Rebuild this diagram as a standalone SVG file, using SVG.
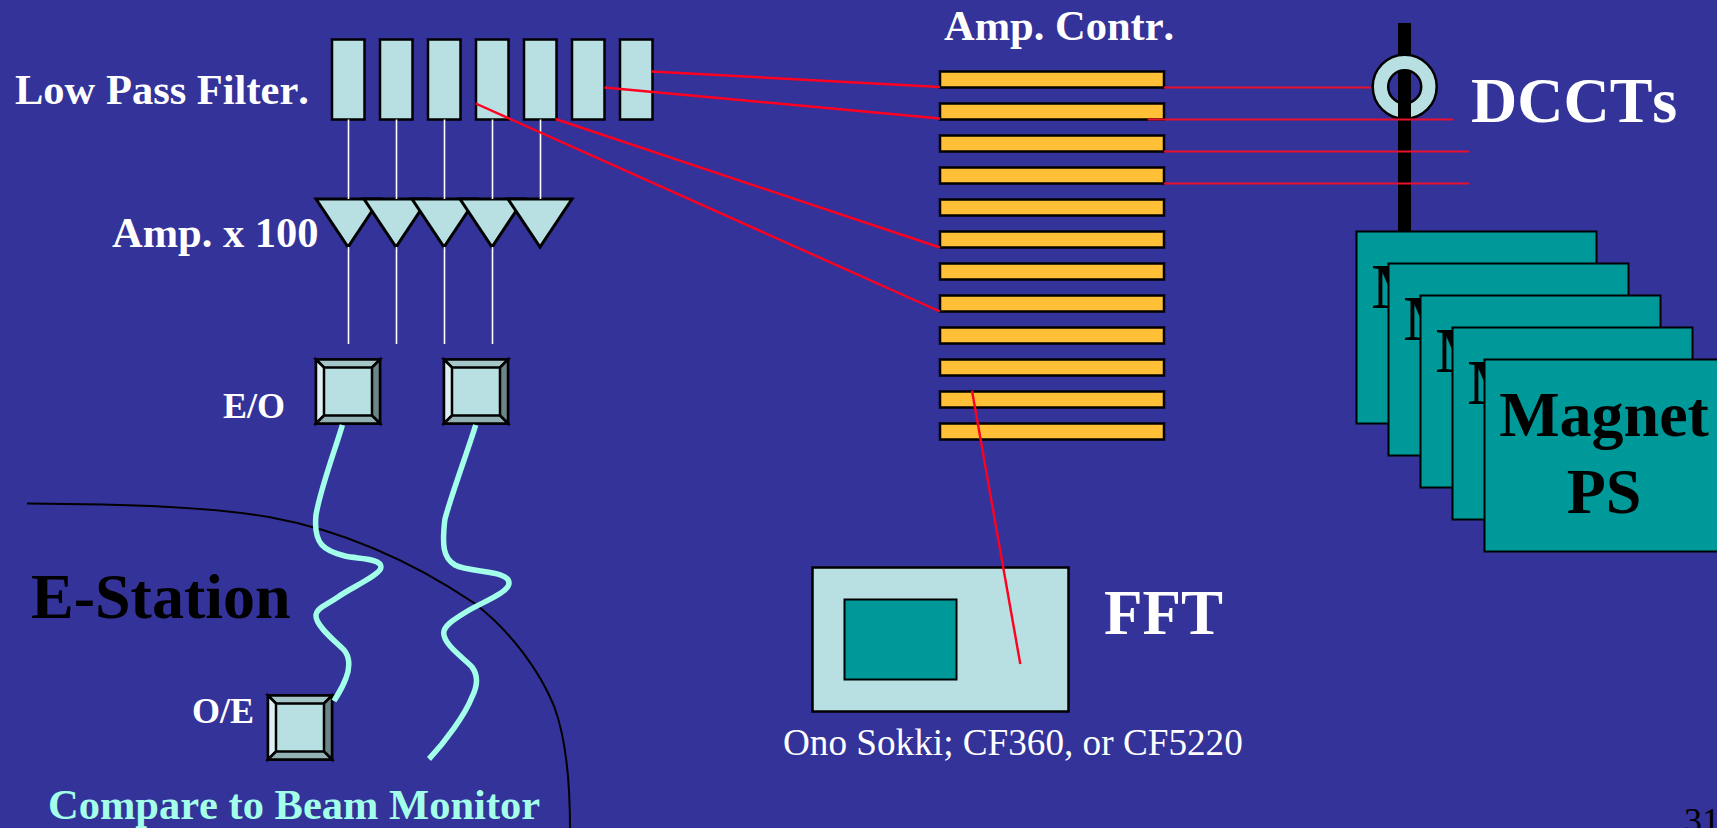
<svg xmlns="http://www.w3.org/2000/svg" width="1717" height="828" viewBox="0 0 1717 828">
<style>
text{font-family:"Liberation Serif","Times New Roman",serif;font-kerning:none}
.b{font-weight:bold}
.w{fill:#fff}
.k{fill:#000}
.s42{font-size:42.5px}
.s36{font-size:36px}
.s64{font-size:64px}
.lb{fill:#b8dfe2;stroke:#000;stroke-width:2.5}
.lb3{fill:#b8dfe2;stroke:#000;stroke-width:3;stroke-linejoin:miter}
.or{fill:#ffc038;stroke:#000;stroke-width:2.5}
.te{fill:#009999;stroke:#000;stroke-width:2}
.wl{stroke:#fff;stroke-width:1.6;fill:none}
.rd{stroke:#ff0021;stroke-width:2.4;fill:none}
.rh{stroke:#e8102f;stroke-width:2;fill:none}
.fb{stroke:#a3ffe9;stroke-width:5.5;fill:none}
.bv{stroke:#000;stroke-width:2.5;stroke-linejoin:miter}
</style>
<defs>
<g id="bevel">
<rect class="bv" fill="#b8dfe2" x="0" y="0" width="64" height="64"/>
<polygon class="bv" fill="#a5c6c9" points="0,0 64,0 56,8 8,8"/>
<polygon class="bv" fill="#dcf0f1" points="0,0 8,8 8,56 0,64"/>
<polygon class="bv" fill="#6e8587" points="64,0 56,8 56,56 64,64"/>
<polygon class="bv" fill="#93b2b5" points="0,64 8,56 56,56 64,64"/>
</g>
<rect id="flt" class="lb" width="32.5" height="80" y="39.5"/>
<polygon id="tri" class="lb3" points="0,199 64,199 32,247"/>
<rect id="bar" class="or" x="940" width="224" height="16"/>
</defs>
<rect width="1717" height="828" fill="#333399"/>

<g id="filters">
<use href="#flt" x="332"/><use href="#flt" x="380"/><use href="#flt" x="428"/><use href="#flt" x="476"/><use href="#flt" x="524"/><use href="#flt" x="572"/><use href="#flt" x="620"/>
</g>
<text id="label-lpf" class="b w s42" x="15" y="104">Low Pass Filter.</text>

<g id="amps">
<use href="#tri" x="316"/><use href="#tri" x="364"/><use href="#tri" x="412"/><use href="#tri" x="460"/><use href="#tri" x="508"/>
</g>
<text id="label-amp" class="b w s42" x="112" y="247">Amp. x 100</text>

<g id="eo1"><use href="#bevel" x="316" y="359.5"/></g>
<g id="eo2"><use href="#bevel" x="444" y="359.5"/></g>
<text id="label-eo" class="b w s36" x="223" y="418">E/O</text>

<g id="oe"><use href="#bevel" x="268" y="695.5"/></g>
<text id="label-oe" class="b w s36" x="192" y="723">O/E</text>

<g id="boundary">
<path d="M27 503.500C130 504 210 507 269 517C340 530 410 560 474 603C512 632 540 672 554 706C566 738 570 780 570 828" fill="none" stroke="#000" stroke-width="2"/>
</g>
<text id="label-estation" class="b k s64" x="31" y="618">E-Station</text>
<text id="label-compare" class="b s42" fill="#a3ffe9" x="48" y="819">Compare to Beam Monitor</text>

<g id="amp-contr">
<use href="#bar" y="71.5"/><use href="#bar" y="103.5"/><use href="#bar" y="135.5"/><use href="#bar" y="167.5"/><use href="#bar" y="199.5"/><use href="#bar" y="231.5"/><use href="#bar" y="263.5"/><use href="#bar" y="295.5"/><use href="#bar" y="327.5"/><use href="#bar" y="359.5"/><use href="#bar" y="391.5"/><use href="#bar" y="423.5"/>
</g>
<text id="label-contr" class="b w s42" x="944" y="40">Amp. Contr.</text>

<g id="fft">
<rect class="lb" x="812.5" y="567.5" width="256" height="144"/>
<rect class="te" x="844.5" y="599.5" width="112" height="80"/>
</g>
<text id="label-fft" class="b w" font-size="63" x="1104" y="634">FFT</text>
<text id="label-ono" class="w" font-size="37.2" x="783" y="755">Ono Sokki; CF360, or CF5220</text>

<g id="dcct">
<rect x="1398" y="23" width="13" height="70" fill="#000"/>
<path fill="#b8dfe2" stroke="#000" stroke-width="2.5" fill-rule="evenodd" d="M1372.700 86.700a32 32 0 1 0 64 0a32 32 0 1 0-64 0ZM1388.200 86.700a16.500 16.500 0 1 0 33 0a16.500 16.500 0 1 0-33 0Z"/>
<rect x="1398" y="86" width="13" height="146" fill="#000"/>
</g>
<text id="label-dccts" class="b w s64" x="1471" y="122">DCCTs</text>

<g id="magnet-ps-1"><rect class="te" x="1356.500" y="231.500" width="240" height="192"/><text class="b k s64" x="1372" y="308">M</text></g>
<g id="magnet-ps-2"><rect class="te" x="1388.500" y="263.500" width="240" height="192"/><text class="b k s64" x="1404" y="340">M</text></g>
<g id="magnet-ps-3"><rect class="te" x="1420.500" y="295.500" width="240" height="192"/><text class="b k s64" x="1436" y="372">M</text></g>
<g id="magnet-ps-4"><rect class="te" x="1452.500" y="327.500" width="240" height="192"/><text class="b k s64" x="1468" y="404">M</text></g>
<g id="magnet-ps-5"><rect class="te" x="1484.500" y="359.500" width="240" height="192"/><text class="b k s64" x="1604" y="436" text-anchor="middle">Magnet</text><text class="b k s64" x="1604" y="513" text-anchor="middle">PS</text></g>

<text id="page-number" class="k" font-size="36" x="1684" y="833">31</text>

<g id="connectors">
<path class="wl" d="M348.500 119.500V199M396.500 119.500V199M444.500 119.500V199M492.500 119.500V199M540.500 119.500V199"/>
<path class="wl" d="M348.500 247V344M396.500 247V344M444.500 247V344M492.500 247V344"/>
<path class="rd" d="M651.500 71.500L940 87M604.500 87.500L940 118.500M555.500 119L940 247.500"/>
<path class="rd" d="M475.700 103.500L940 311.500"/>
<path class="rd" stroke-width="3" d="M972 390.700L1020.300 664"/>
<path class="rh" d="M1164 87.500H1371M1147.700 119.500H1453M1164 151.500H1469M1164 183.500H1469"/>
<path class="fb" d="M342.400 425C335 450 320 490 316 515C313 545 325 551 345 556C358 559 381 558 381 567C381 575 350 588 338 597C325 606 316 608 316 616C316 626 335 641 344 650C350 657 350 668 346 678C342 689 338 694 334 701"/>
<path class="fb" d="M475.700 425C468 450 448 505 444.800 520C442 545 443 558 455 565C470 573 509 570 509 583C509 593 480 603 466 612C453 620 443.700 626 443.700 633C443.700 645 465 659 472 667C478 675 478 685 472 697C465 715 445 742 429 759"/>
</g>
</svg>
